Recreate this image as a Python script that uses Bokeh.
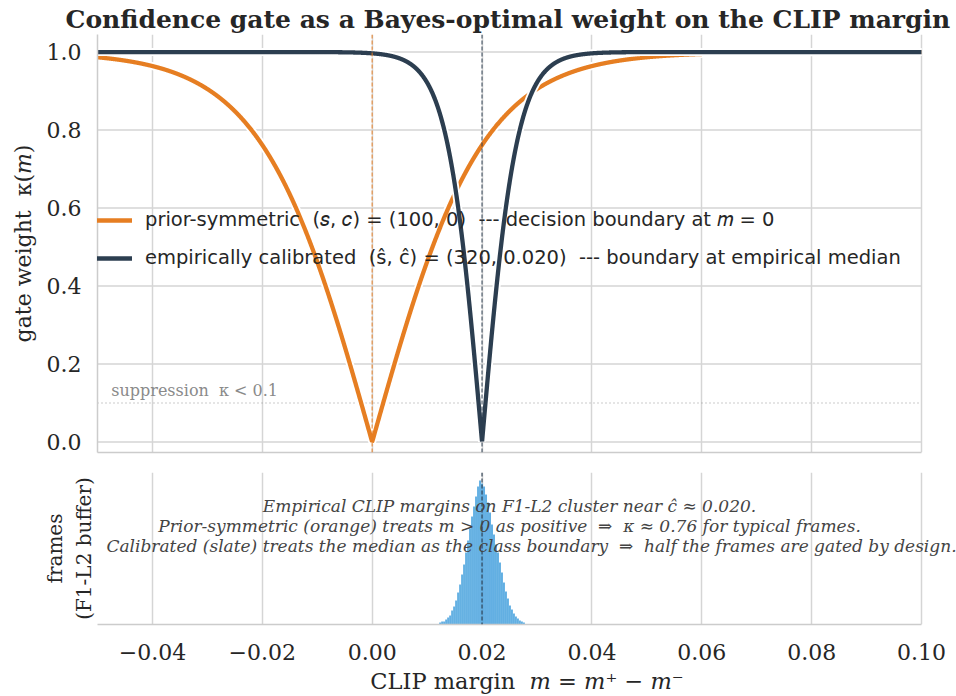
import numpy as np
from bokeh.plotting import figure
from bokeh.layouts import column
from bokeh.models import (Range1d, FixedTicker, Span, Label, Legend, LegendItem, Title)
from bokeh.embed import file_html
from bokeh.resources import INLINE

# ---------------- data ----------------
m_axis_min, m_axis_max = -0.05, 0.10
x_ticks = [-0.04, -0.02, 0.00, 0.02, 0.04, 0.06, 0.08, 0.10]
x_tick_labels = ["\u22120.04", "\u22120.02", "0.00", "0.02", "0.04", "0.06", "0.08", "0.10"]
y_ticks = [0.0, 0.2, 0.4, 0.6, 0.8, 1.0]
y_tick_labels = ["0.0", "0.2", "0.4", "0.6", "0.8", "1.0"]

prior_s, prior_c = 100.0, 0.0          # prior-symmetric gate
calib_s, calib_c = 320.0, 0.020        # empirically calibrated gate
suppression_level = 0.1

# histogram of empirical CLIP margins (frames per bin)
hist_lo, hist_hi = 0.0122, 0.0278
hist_counts = [10, 15, 15, 25, 35, 45, 70, 90, 120, 160, 200, 250, 300, 360, 420,
               480, 540, 590, 640, 690, 720, 705, 690, 650, 610, 560, 500, 450, 400,
               360, 310, 260, 210, 165, 130, 95, 75, 55, 40, 30, 20, 15, 10]

NB = "\u00a0"
title_text = "Confidence gate as a Bayes-optimal weight on the CLIP margin"
legend_prior = ("prior-symmetric" + NB + NB + "(\U0001D460, \U0001D450) = (100, 0)" + NB + NB +
                "--- decision boundary at \U0001D45A = 0")
legend_calib = ("empirically calibrated" + NB + NB + "(\u015D, \u0109) = (320, 0.020)" + NB + NB +
                "--- boundary at empirical median")
note_lines = [
    "Empirical CLIP margins on F1-L2 cluster near \u0109 \u2248 0.020.",
    "Prior-symmetric (orange) treats m > 0 as positive" + NB + NB + "\u21D2" + NB + NB +
    "\u03BA \u2248 0.76 for typical frames.",
    "Calibrated (slate) treats the median as the class boundary" + NB + NB + "\u21D2" + NB + NB +
    "half the frames are gated by design.",
]

# ---------------- derived ----------------
m = np.linspace(m_axis_min, m_axis_max, 4001)
kappa_prior = np.abs(np.tanh(prior_s * (m - prior_c) / 2.0))
kappa_calib = np.abs(np.tanh(calib_s * (m - calib_c) / 2.0))
edges = np.linspace(hist_lo, hist_hi, len(hist_counts) + 1)

ORANGE = "#e67e22"
SLATE = "#2c3e50"
BLUE = "#3498db"
GRID = "#d5d5d5"
SPINE = "#cccccc"
TXT = "#262626"
SERIF = "DejaVu Serif"

W = 956
TOP_H = 462
BOT_H = 696 - TOP_H
LEFT_B, RIGHT_GAP = 97, 35
AX_W = W - LEFT_B - RIGHT_GAP          # visible axes width (matplotlib-like)
# frames run to the right edge so long texts are not clipped; the visible axes
# region (grid, spines) is bounded to [m_axis_min, m_axis_max]
x_ext = m_axis_max + (m_axis_max - m_axis_min) * RIGHT_GAP / AX_W

# ---------------- top panel ----------------
top = figure(width=W, height=TOP_H, output_backend="svg", toolbar_location=None,
             x_range=Range1d(m_axis_min, x_ext), y_range=Range1d(-0.027, 1.045),
             min_border_left=LEFT_B, min_border_right=0, min_border_top=34,
             min_border_bottom=10)
top.outline_line_color = None
top.background_fill_color = "white"

top.title = Title(text=title_text, align="left", text_font=SERIF, text_font_style="bold",
                  text_font_size="25px", text_color=TXT, offset=-32, standoff=1)

top.xaxis.ticker = FixedTicker(ticks=[])
top.xaxis.bounds = (m_axis_min, m_axis_max)
top.xaxis.major_tick_line_color = None
top.xaxis.minor_tick_line_color = None
top.xaxis.axis_line_color = SPINE
top.xaxis.axis_line_width = 1.5

top.yaxis.ticker = FixedTicker(ticks=y_ticks)
top.yaxis.major_label_overrides = {t: l for t, l in zip(y_ticks, y_tick_labels)}
top.yaxis.major_label_text_font = SERIF
top.yaxis.major_label_text_font_size = "22px"
top.yaxis.major_label_text_color = TXT
top.yaxis.major_tick_line_color = None
top.yaxis.minor_tick_line_color = None
top.yaxis.axis_line_color = SPINE
top.yaxis.axis_line_width = 1.5
top.yaxis.major_label_standoff = 10
top.yaxis.axis_label = "gate weight" + NB + NB + "\u03BA(\U0001D45A)"
top.yaxis.axis_label_text_font = SERIF
top.yaxis.axis_label_text_font_style = "normal"
top.yaxis.axis_label_text_font_size = "22px"
top.yaxis.axis_label_text_color = TXT
top.yaxis.axis_label_standoff = 8

top.xgrid.ticker = FixedTicker(ticks=x_ticks)
top.xgrid.grid_line_color = GRID
top.xgrid.grid_line_width = 1.5
top.ygrid.grid_line_color = None
# horizontal grid lines limited to the visible axes width
top.multi_line(xs=[[m_axis_min, m_axis_max] for _ in y_ticks], ys=[[t, t] for t in y_ticks],
               line_color=GRID, line_width=1.5, level="underlay")

top.line([m_axis_min, m_axis_max], [suppression_level, suppression_level],
         line_color="#999999", line_width=1.1, line_dash="1 3")
top.add_layout(Label(x=-0.0475, y=suppression_level, y_offset=3,
                     text="suppression" + NB + NB + "\u03BA < 0.1",
                     text_font=SERIF, text_font_size="16px", text_color="#8a8a8a",
                     text_baseline="bottom"))
top.add_layout(Span(location=prior_c, dimension="height", line_color=ORANGE, line_alpha=0.75,
                    line_width=1.3, line_dash="4 2"))

top.line(m, kappa_prior, line_color="white", line_width=8)
r_prior = top.line(m, kappa_prior, line_color=ORANGE, line_width=4.3)
top.line(m, kappa_calib, line_color="white", line_width=8)
r_calib = top.line(m, kappa_calib, line_color=SLATE, line_width=4.3)

top.add_layout(Span(location=calib_c, dimension="height", line_color=SLATE, line_alpha=0.75,
                    line_width=1.3, line_dash="4 2"))

legend = Legend(items=[LegendItem(label=legend_prior, renderers=[r_prior]),
                       LegendItem(label=legend_calib, renderers=[r_calib])],
                location=(-8, 183), border_line_color=None, background_fill_alpha=0.0,
                label_text_font="DejaVu Sans", label_text_font_size="19.5px",
                label_text_color=TXT, glyph_width=43, glyph_height=20, label_height=20,
                label_standoff=13, spacing=15, padding=0, margin=0)
top.add_layout(legend)

# ---------------- bottom panel ----------------
bot = figure(width=W, height=BOT_H, output_backend="svg", toolbar_location=None,
             x_range=top.x_range, y_range=Range1d(0, max(hist_counts) * 1.055),
             min_border_left=LEFT_B, min_border_right=0, min_border_top=10, min_border_bottom=72)
bot.outline_line_color = None

bot.quad(left=edges[:-1], right=edges[1:], bottom=0, top=hist_counts,
         fill_color=BLUE, fill_alpha=0.8, line_color="white", line_width=0.3, line_alpha=0.25)

bot.add_layout(Span(location=calib_c, dimension="height", line_color=SLATE, line_alpha=0.75,
                    line_width=1.5, line_dash="4 2"))

note_dx = [0, 0, 22]
for i, line in enumerate(note_lines):
    bot.add_layout(Label(x=AX_W / 2 + note_dx[i], y=119 - 20 * i, x_units="screen",
                         y_units="screen", text=line,
                         text_font=SERIF, text_font_style="italic", text_font_size="17px",
                         text_color="#444444", text_align="center", text_baseline="middle"))

bot.xaxis.ticker = FixedTicker(ticks=x_ticks)
bot.xaxis.bounds = (m_axis_min, m_axis_max)
bot.xaxis.major_label_overrides = {t: l for t, l in zip(x_ticks, x_tick_labels)}
bot.xaxis.major_label_text_font = SERIF
bot.xaxis.major_label_text_font_size = "22px"
bot.xaxis.major_label_text_color = TXT
bot.xaxis.major_tick_line_color = None
bot.xaxis.minor_tick_line_color = None
bot.xaxis.axis_line_color = SPINE
bot.xaxis.axis_line_width = 1.5
bot.xaxis.major_label_standoff = 13
bot.xaxis.axis_label = ("CLIP margin" + NB + NB + "\U0001D45A = \U0001D45A\u207A \u2212 \U0001D45A\u207B")
bot.xaxis.axis_label_text_font = SERIF
bot.xaxis.axis_label_text_font_style = "normal"
bot.xaxis.axis_label_text_font_size = "22.5px"
bot.xaxis.axis_label_text_color = TXT
bot.xaxis.axis_label_standoff = 5

bot.yaxis.ticker = FixedTicker(ticks=[])
bot.yaxis.axis_line_color = None
bot.yaxis.major_tick_line_color = None
bot.yaxis.minor_tick_line_color = None
bot.yaxis.axis_label = "frames\n(F1-L2 buffer)"
bot.yaxis.axis_label_text_font = SERIF
bot.yaxis.axis_label_text_font_style = "normal"
bot.yaxis.axis_label_text_font_size = "20px"
bot.yaxis.axis_label_text_color = TXT
bot.yaxis.axis_label_standoff = 2

bot.xgrid.ticker = FixedTicker(ticks=x_ticks)
bot.xgrid.grid_line_color = GRID
bot.xgrid.grid_line_width = 1.5
bot.ygrid.grid_line_color = None

layout = column(top, bot, spacing=0)
open("out.html", "w").write(file_html(layout, INLINE))
